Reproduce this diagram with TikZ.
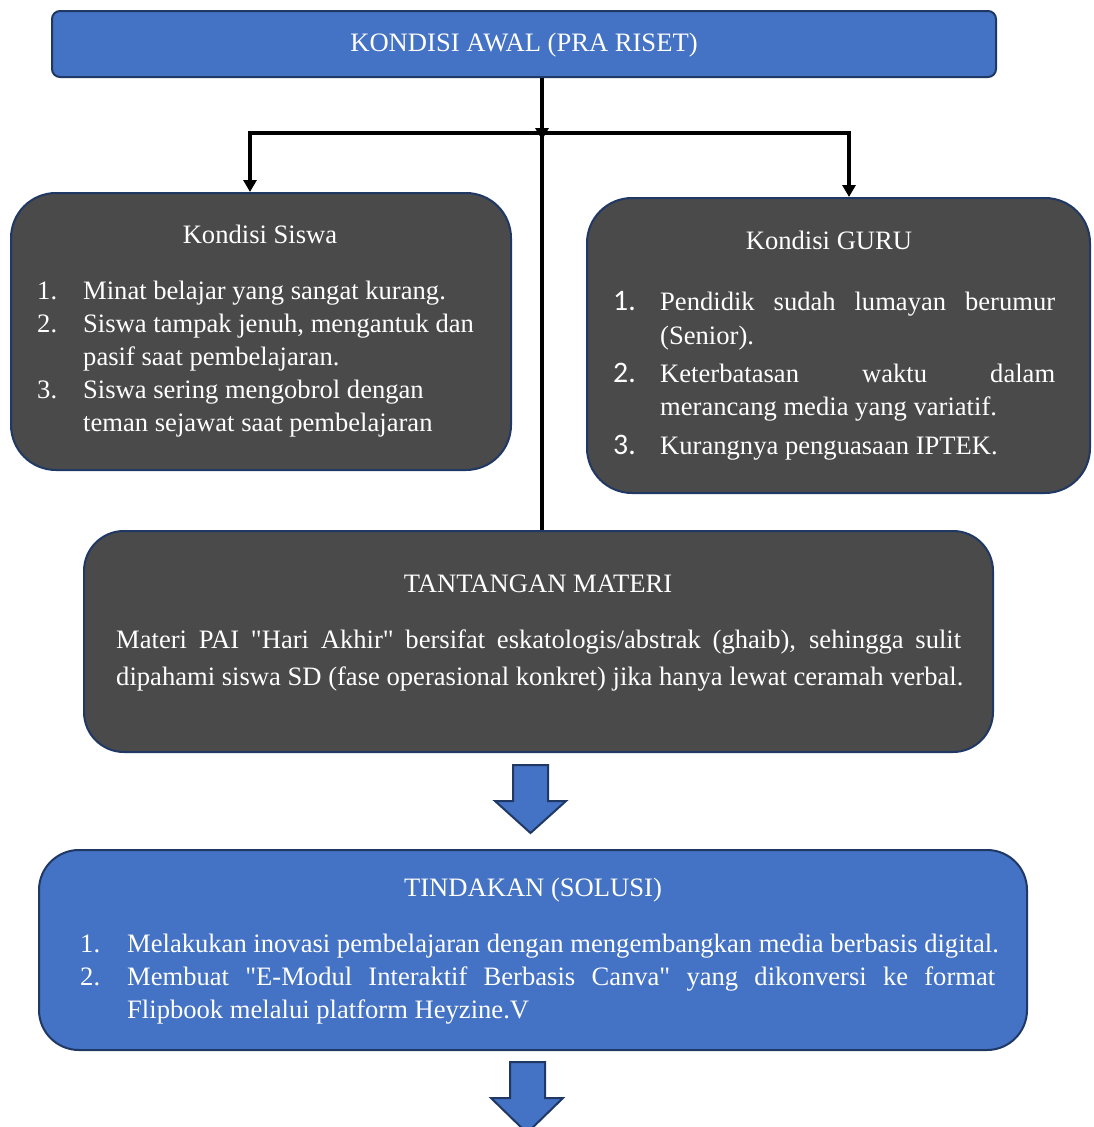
\documentclass[tikz,border=0pt]{standalone}
\usepackage{fontspec}
\setmainfont{Liberation Serif}
\newfontfamily\numfont[Scale=1.12]{Carlito}
\newfontfamily\quotefont{Liberation Serif}
\usepackage{xcolor}
\usetikzlibrary{arrows.meta, positioning, calc}
\definecolor{boxblue}{HTML}{4472C4}
\definecolor{boxgray}{HTML}{4A4A4A}
\definecolor{boxline}{HTML}{1F3864}
\newcommand{\fulline}[2]{\makebox[#1][s]{#2}}
\newcommand{\dq}{{\quotefont\char34}}

\tikzset{
  panel/.style={draw=boxline, line width=2pt, inner sep=0pt},
  bluepanel/.style={panel, fill=boxblue},
  graypanel/.style={panel, fill=boxgray},
  boxtext/.style={text=white, inner sep=0pt,
                  font=\fontsize{26.6}{33}\selectfont},
  link/.style={line width=3.5pt, black},
  tip/.style={-{Triangle[length=12pt, width=13pt]}},
  blockarrow/.style={draw=boxline, line width=2pt, fill=boxblue}
}

\begin{document}
\begin{tikzpicture}[x=1pt, y=-1pt]
        \clip (0,0) rectangle (1093,1127);
        \fill[white] (0,0) rectangle (1093,1127);

        % kondisi awal
        \node[bluepanel, rounded corners=8pt, minimum width=944pt,
              minimum height=66pt] (awal) at (524,44) {};
        \node[boxtext, anchor=base] (awaltitle) at (524,51)
            {KONDISI AWAL (PRA RISET)};

        % kondisi siswa
        \node[graypanel, rounded corners=45pt, minimum width=500pt,
              minimum height=277pt] (siswa) at (261,331.5) {};
        \node[boxtext, anchor=base] (siswatitle) at (260,243) {Kondisi Siswa};
        \node[boxtext, anchor=base west] (siswalist) at (37,299) {%
            \begin{tabular}[t]{@{}p{46pt}@{}l@{}}
            1. & Minat belajar yang sangat kurang.\\
            2. & Siswa tampak jenuh, mengantuk dan\\
               & pasif saat pembelajaran.\\
            3. & Siswa sering mengobrol dengan\\
               & teman sejawat saat pembelajaran
            \end{tabular}};

        % kondisi guru
        \node[graypanel, rounded corners=45pt, minimum width=503pt,
              minimum height=295pt] (guru) at (838.5,345.5) {};
        \node[boxtext, anchor=base] (gurutitle) at (829,249) {Kondisi GURU};
        \node[boxtext, anchor=base west] (gurulist) at (613,310) {%
            \begin{tabular}[t]{@{}p{47pt}@{}l@{}}
            {\numfont 1.} & \fulline{395pt}{Pendidik sudah lumayan berumur}\\[1pt]
                          & (Senior).\\[5pt]
            {\numfont 2.} & \fulline{395pt}{Keterbatasan waktu dalam}\\
                          & merancang media yang variatif.\\[6pt]
            {\numfont 3.} & Kurangnya penguasaan IPTEK.
            \end{tabular}};

        % tantangan materi
        \node[graypanel, rounded corners=40pt, minimum width=909pt,
              minimum height=221pt] (materi) at (538.5,641.5) {};
        \node[boxtext, anchor=base] (materititle) at (538,592) {TANTANGAN MATERI};
        \node[boxtext, anchor=base west] (materitext) at (116,648) {%
            \begin{tabular}[t]{@{}l@{}}
            \fulline{845pt}{Materi PAI \dq Hari Akhir\dq{} bersifat eskatologis/abstrak (ghaib), sehingga sulit}\\[4pt]
            dipahami siswa SD (fase operasional konkret) jika hanya lewat ceramah verbal.
            \end{tabular}};

        % tindakan
        \node[bluepanel, rounded corners=40pt, minimum width=988pt,
              minimum height=200pt] (tindakan) at (533,950) {};
        \node[boxtext, anchor=base] (tindakantitle) at (533,896) {TINDAKAN (SOLUSI)};
        \node[boxtext, anchor=base west] (tindakanlist) at (80,952) {%
            \begin{tabular}[t]{@{}p{47pt}@{}l@{}}
            1. & Melakukan inovasi pembelajaran dengan mengembangkan media berbasis digital.\\
            2. & \fulline{868pt}{Membuat \dq E-Modul Interaktif Berbasis Canva\dq{} yang dikonversi ke format}\\
               & Flipbook melalui platform Heyzine.V
            \end{tabular}};

        % connectors
        \coordinate (split) at (542,133);
        \draw[link, tip] (awal.south -| split) -- ($(split)+(0,7)$);
        \draw[link, tip] (split) -| ($(siswa.north)+(-11,0)$);
        \draw[link, tip] (split) -| ($(guru.north)+(10.5,0)$);
        \draw[link] (split) -- (materi.north -| split);

        % block arrows
        \draw[blockarrow] (513,765) -- (548,765) -- (548,801) -- (566,801)
            -- (530.5,833) -- (495,801) -- (513,801) -- cycle;
        \draw[blockarrow] (510,1062) -- (545,1062) -- (545,1098) -- (563,1098)
            -- (527,1133) -- (491,1098) -- (510,1098) -- cycle;
    \end{tikzpicture}
\end{document}
